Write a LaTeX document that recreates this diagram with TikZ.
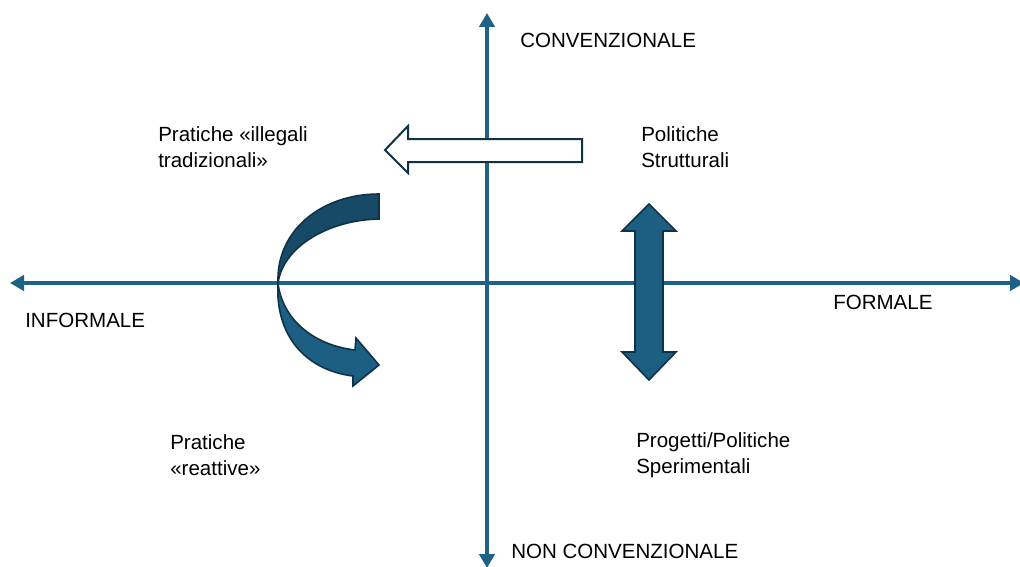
\documentclass[tikz,border=0pt]{standalone}
\usepackage{fontspec}
\setmainfont{Liberation Sans}
\usetikzlibrary{arrows.meta}
\definecolor{axisblue}{HTML}{1F6285}
\definecolor{darkfill}{HTML}{174A66}
\definecolor{midfill}{HTML}{1D5F82}
\definecolor{edgecol}{HTML}{0E3346}
\tikzset{
  axisline/.style={draw=axisblue, line width=3pt, -{Triangle[length=10.5pt,width=11.5pt]}},
  lbl/.style={font=\fontsize{15.4pt}{19.5pt}\selectfont, align=left, inner sep=0pt, anchor=west},
  shapeedge/.style={draw=edgecol, line width=1.2pt, line join=miter},
}
\begin{document}
\begin{tikzpicture}[x=0.75pt, y=-0.75pt]
\useasboundingbox (0,0) rectangle (1020,567);
% axes
\coordinate (hL) at (10,283);
\coordinate (hR) at (1024,283);
\coordinate (hC) at (487,283);
\coordinate (vT) at (487,13);
\coordinate (vB) at (487,568);
\draw[axisline] (hC) -- (hL);
\draw[axisline] (hC) -- (hR);
\draw[axisline] (hC) -- (vT);
\draw[axisline] (hC) -- (vB);
% hollow arrow
\draw[shapeedge, fill=white, line width=1.5pt] (582,139) -- (408,139) -- (408,126) -- (385,150) -- (408,173) -- (408,162) -- (582,162) -- cycle;
% double arrow
\draw[shapeedge, fill=midfill] (649,204) -- (676,231) -- (663,231) -- (663,352) -- (676,352) -- (649,380) -- (622,352) -- (635,352) -- (635,231) -- (622,231) -- cycle;
% curved arrow: upper (back) part
\draw[shapeedge, fill=darkfill] (379,194) -- (379,219) .. controls (328,220) and (283,247) .. (278,283) .. controls (276,230) and (322,194) .. cycle;
% curved arrow: lower (front) part
\draw[shapeedge, fill=midfill] (278,283) .. controls (282,318) and (312,345) .. (355,350) -- (356,338) -- (379,365) -- (353,386) -- (353,376) .. controls (305,370) and (275,335) .. cycle;
% labels
\node[lbl] (conv) at (520,40) {CONVENZIONALE};
\node[lbl] (nonconv) at (511,551) {NON CONVENZIONALE};
\node[lbl] (inf) at (25,320) {INFORMALE};
\node[lbl] (form) at (833,302) {FORMALE};
\node[lbl] (illeg) at (158,147) {Pratiche «illegali\\tradizionali»};
\node[lbl] (polstr) at (641,147) {Politiche\\Strutturali};
\node[lbl] (reatt) at (170,455) {Pratiche\\«reattive»};
\node[lbl] (sper) at (636,455) {Progetti/Politiche\\Sperimentali};
\end{tikzpicture}
\end{document}
